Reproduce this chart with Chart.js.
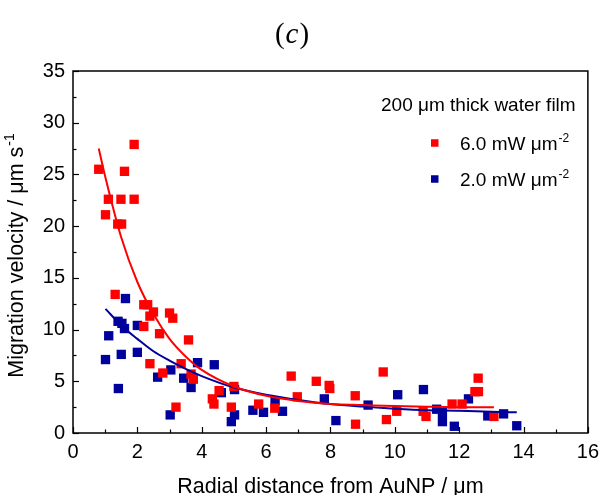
<!DOCTYPE html>
<html>
<head>
<meta charset="utf-8">
<script src="https://cdn.jsdelivr.net/npm/chart.js@4.4.1/dist/chart.umd.min.js"></script>
<style>
    html, body { margin: 0; padding: 0; background: #fff; }
    #wrap { width: 606px; height: 495px; }
</style>
</head>
<body>
<div id="wrap"><canvas id="chart" width="606" height="495"></canvas></div>
<script>
// measured points, 6.0 mW um^-2
const redX = [0.80, 1.60, 1.90, 1.10, 1.49, 1.90, 1.01, 1.39, 1.51,
    1.31, 2.20, 2.32, 2.50, 2.39, 3.00, 3.10, 2.20, 2.69, 3.59, 2.39, 2.79, 3.36, 3.67, 3.74, 3.20,
    5.00, 4.54, 4.33, 4.38, 4.92, 5.77, 6.27, 6.78, 6.97, 7.56, 7.96, 7.98, 8.77, 8.78, 9.64, 9.74,
    10.06, 10.88, 10.97, 11.78, 12.09, 12.59, 12.49, 12.60, 13.08];
const redY = [25.5, 25.3, 27.9, 22.6, 22.6, 22.6, 21.1, 20.2, 20.2,
    13.4, 12.4, 12.4, 11.7, 11.3, 11.6, 11.1, 10.3, 9.6, 9.0, 6.7, 5.8, 6.7, 5.7, 5.2, 2.5,
    4.5, 4.1, 3.3, 2.8, 2.5, 2.8, 2.4, 5.5, 3.5, 5.0, 4.6, 4.3, 3.6, 0.85, 5.9, 1.3,
    2.1, 2.1, 1.6, 2.8, 2.8, 5.3, 4.0, 4.0, 1.6];

// measured points, 2.0 mW um^-2
const blueX = [1.63, 1.40, 1.52, 1.60, 2.00, 1.11, 1.01, 1.50, 2.00, 1.41, 2.63, 3.04, 3.44, 3.67, 3.87, 3.02,
    4.39, 4.61, 5.02, 5.02, 4.92, 5.59, 5.92, 6.28, 6.51, 7.81, 8.17, 9.17,
    10.09, 10.89, 11.30, 11.48, 11.48, 11.85, 12.29, 12.89, 13.38, 13.79];
const blueY = [13.0, 10.8, 10.6, 10.1, 10.4, 9.4, 7.1, 7.6, 7.8, 4.3, 5.4, 6.1, 5.3, 4.4, 6.8, 1.75,
    6.6, 3.9, 4.2, 1.75, 1.1, 2.2, 2.0, 3.1, 2.1, 3.3, 1.2, 2.7,
    3.7, 4.2, 2.3, 2.0, 1.1, 0.65, 3.3, 1.65, 1.85, 0.7];

// fitted curves
const redFitX = [0.8, 1, 1.5, 2, 2.5, 3, 3.5, 4, 5, 6, 7, 8, 9, 10, 11, 12, 13.08];
const redFitY = [27.5, 24.8, 18.9, 14.6, 11.5, 9.1, 7.4, 6.1, 4.5, 3.6, 3.1, 2.8, 2.7, 2.6, 2.55, 2.5, 2.5];
const blueFitX = [1.01, 1.5, 2, 2.5, 3, 3.5, 4, 5, 6, 7, 8, 9, 10, 11, 12, 13, 13.79];
const blueFitY = [12.0, 10.4, 9.1, 7.9, 7.0, 6.2, 5.5, 4.4, 3.7, 3.2, 2.8, 2.55, 2.35, 2.2, 2.15, 2.05, 2.0];

const seriesLabels = ['6.0 mW \u03bcm', '2.0 mW \u03bcm'];
const legendTitle = '200 \u03bcm thick water film';
const xTitle = 'Radial distance from AuNP / \u03bcm';
const yTitle = 'Migration velocity / \u03bcm s';
const panelLabel = 'c';

const RED = '#ff0000';
const BLUE = '#00009c';
const SANS = '"Liberation Sans", Arial, sans-serif';

function toPoints(xs, ys) {
    return xs.map(function(x, i) { return { x: x, y: ys[i] }; });
}

// inward ticks and a closed frame
const framePlugin = {
    id: 'frame',
    afterDatasetsDraw: function(chart) {
        const ctx = chart.ctx;
        const a = chart.chartArea;
        ctx.save();
        ctx.strokeStyle = '#000';
        ctx.lineWidth = 1.5;
        ctx.strokeRect(a.left, a.top, a.right - a.left, a.bottom - a.top);
        ctx.lineWidth = 1.2;
        const xs = chart.scales.x;
        xs.ticks.forEach(function(t) {
            const px = Math.round(xs.getPixelForValue(t.value)) + 0.5;
            const len = t.value % 2 === 0 ? 6 : 3.5;
            ctx.beginPath();
            ctx.moveTo(px, a.bottom);
            ctx.lineTo(px, a.bottom - len);
            ctx.stroke();
        });
        const ys = chart.scales.y;
        ys.ticks.forEach(function(t) {
            const py = Math.round(ys.getPixelForValue(t.value)) + 0.5;
            const len = t.value % 5 === 0 ? 6 : 3.5;
            ctx.beginPath();
            ctx.moveTo(a.left, py);
            ctx.lineTo(a.left + len, py);
            ctx.stroke();
        });
        ctx.restore();
    }
};

// text with a small raised part at the end
function drawSup(ctx, text, sup, x, y, size, align) {
    ctx.font = size + 'px ' + SANS;
    const w1 = ctx.measureText(text).width;
    ctx.font = Math.round(size * 0.65) + 'px ' + SANS;
    const w2 = ctx.measureText(sup).width;
    let start = x;
    if (align === 'center') start = x - (w1 + w2) / 2;
    ctx.textAlign = 'left';
    ctx.textBaseline = 'alphabetic';
    ctx.font = size + 'px ' + SANS;
    ctx.fillText(text, start, y);
    ctx.font = Math.round(size * 0.65) + 'px ' + SANS;
    ctx.fillText(sup, start + w1 + 1, y - size * 0.42);
}

const textPlugin = {
    id: 'texts',
    afterDraw: function(chart) {
        const ctx = chart.ctx;
        const a = chart.chartArea;
        ctx.save();
        ctx.fillStyle = '#000';

        // panel label (c)
        ctx.textBaseline = 'alphabetic';
        ctx.font = '29px "Liberation Serif", serif';
        const wp = ctx.measureText('(').width;
        const wq = ctx.measureText(')').width;
        ctx.font = 'italic 29px "Liberation Serif", serif';
        const wc = ctx.measureText(panelLabel).width;
        let sx = 292 - (wp + wc + wq + 2) / 2;
        ctx.textAlign = 'left';
        ctx.font = '29px "Liberation Serif", serif';
        ctx.fillText('(', sx, 43);
        ctx.font = 'italic 29px "Liberation Serif", serif';
        ctx.fillText(panelLabel, sx + wp + 1, 43);
        ctx.font = '29px "Liberation Serif", serif';
        ctx.fillText(')', sx + wp + wc + 2, 43);

        // x axis title
        ctx.font = '21.5px ' + SANS;
        ctx.textAlign = 'center';
        ctx.fillText(xTitle, (a.left + a.right) / 2, 493);

        // y axis title
        ctx.save();
        ctx.translate(23, 256);
        ctx.rotate(-Math.PI / 2);
        drawSup(ctx, yTitle, '-1', 0, 0, 21.5, 'center');
        ctx.restore();

        // legend
        ctx.font = '19px ' + SANS;
        ctx.textAlign = 'left';
        ctx.fillText(legendTitle, 381, 111);
        const colors = [RED, BLUE];
        const rows = [143, 179];
        seriesLabels.forEach(function(lab, i) {
            ctx.fillStyle = colors[i];
            ctx.fillRect(431, rows[i] - 3.75, 7.5, 7.5);
            ctx.fillStyle = '#000';
            drawSup(ctx, lab, '-2', 460, rows[i] + 7, 19, 'left');
        });
        ctx.restore();
    }
};

const ctx = document.getElementById('chart').getContext('2d');
const chart = new Chart(ctx, {
    type: 'scatter',
    data: {
        datasets: [{
            label: 'fit 6.0',
            data: toPoints(redFitX, redFitY),
            showLine: true,
            borderColor: RED,
            borderWidth: 2,
            pointRadius: 0,
            cubicInterpolationMode: 'monotone',
            fill: false
        }, {
            label: 'fit 2.0',
            data: toPoints(blueFitX, blueFitY),
            showLine: true,
            borderColor: BLUE,
            borderWidth: 2,
            pointRadius: 0,
            cubicInterpolationMode: 'monotone',
            fill: false
        }, {
            label: seriesLabels[0],
            data: toPoints(redX, redY),
            pointStyle: 'rect',
            pointRadius: 6.6,
            backgroundColor: RED,
            borderWidth: 0
        }, {
            label: seriesLabels[1],
            data: toPoints(blueX, blueY),
            pointStyle: 'rect',
            pointRadius: 6.6,
            backgroundColor: BLUE,
            borderWidth: 0
        }]
    },
    options: {
        responsive: false,
        animation: false,
        layout: {
            padding: { top: 71, right: 13, left: 0, bottom: 0 }
        },
        plugins: {
            legend: { display: false },
            tooltip: { enabled: false },
            title: { display: false }
        },
        scales: {
            x: {
                type: 'linear',
                min: 0,
                max: 16,
                grid: { display: false, drawTicks: false },
                border: { display: false },
                afterFit: function(scale) { scale.height = 62; },
                ticks: {
                    stepSize: 1,
                    autoSkip: false,
                    maxRotation: 0,
                    padding: 7,
                    color: '#000',
                    font: { family: SANS, size: 20 },
                    callback: function(v) { return v % 2 === 0 ? v : ''; }
                }
            },
            y: {
                type: 'linear',
                min: 0,
                max: 35,
                grid: { display: false, drawTicks: false },
                border: { display: false },
                afterFit: function(scale) { scale.width = 73; },
                ticks: {
                    stepSize: 2.5,
                    autoSkip: false,
                    padding: 8,
                    color: '#000',
                    font: { family: SANS, size: 20 },
                    callback: function(v) { return v % 5 === 0 ? v : ''; }
                }
            }
        }
    },
    plugins: [framePlugin, textPlugin]
});
</script>
</body>
</html>
